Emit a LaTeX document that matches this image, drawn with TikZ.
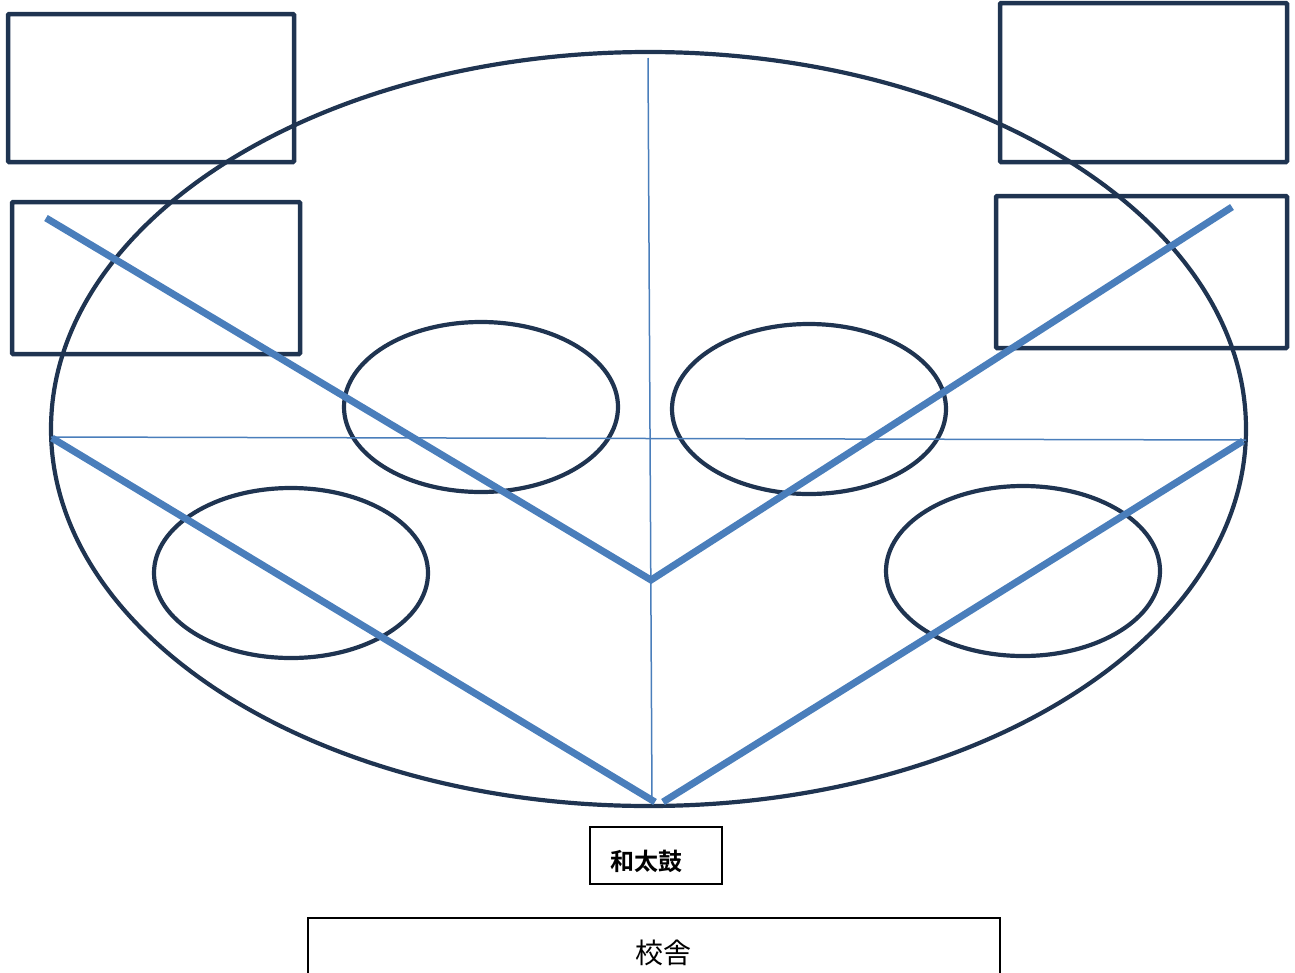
\documentclass[tikz,border=0pt]{standalone}
\usepackage{fontspec}
\newfontfamily\cjk{Noto Sans CJK JP}[BoldFont={Noto Sans CJK JP Bold}]
\usetikzlibrary{shapes.geometric}
\definecolor{dark}{HTML}{1F3451}
\definecolor{lblue}{HTML}{4A7EBB}
\tikzset{
  field/.style={draw=dark, line width=4.2pt, ellipse, inner sep=0pt, minimum width=1195pt, minimum height=754pt},
  group/.style={draw=dark, line width=4.2pt, ellipse, inner sep=0pt, minimum width=274pt, minimum height=170pt},
  board/.style={draw=dark, line width=4.5pt, rectangle, inner sep=0pt, rounded corners=1pt},
  axis/.style={draw=lblue, line width=1.5pt},
  route/.style={draw=lblue, line width=7pt},
  label/.style={draw=black, line width=1.2pt, rectangle, inner sep=0pt},
}
\begin{document}
\begin{tikzpicture}[x=1pt,y=-1pt]
\useasboundingbox (0,0) rectangle (1295,972);
\clip (0,0) rectangle (1295,972);
% field
\node[field] (F) at (648.5,429) {};
% boards
\node[board, minimum width=286pt, minimum height=148pt] (TL) at (151,88) {};
\node[board, minimum width=288pt, minimum height=152pt] (ML) at (156,278) {};
\node[board, minimum width=287pt, minimum height=159pt] (TR) at (1143.5,82.5) {};
\node[board, minimum width=291pt, minimum height=152pt] (MR) at (1141.5,272) {};
% groups
\node[group] (G1) at (481,407) {};
\node[group] (G2) at (809,409) {};
\node[group] (G3) at (291,573) {};
\node[group] (G4) at (1023,571) {};
% axes
\coordinate (vt) at (648,58);
\coordinate (vb) at (652,803);
\coordinate (hl) at (51,437);
\coordinate (hr) at (1246,440);
\draw[axis] (vt) -- (vb);
\draw[axis] (hl) -- (hr);
% routes
\coordinate (a1) at (46,218);
\coordinate (a2) at (651,580);
\coordinate (a3) at (1232,207);
\coordinate (b1) at (52,438);
\coordinate (b2) at (655,802);
\coordinate (c1) at (663,802);
\coordinate (c2) at (1243,441);
\draw[route] (a1) -- (a2) -- (a3);
\draw[route] (b1) -- (b2);
\draw[route] (c1) -- (c2);
% labels
\node[label, minimum width=132pt, minimum height=57pt] (W) at (656,855.5) {};
\node[font=\cjk\bfseries\fontsize{24}{28}\selectfont, inner sep=0pt] (Wt) at (646.5,861) {和太鼓};
\node[label, minimum width=692pt, minimum height=70pt] (S) at (654,953) {};
\node[font=\cjk\fontsize{28}{32}\selectfont, inner sep=0pt] (St) at (663,953) {校舎};
\end{tikzpicture}
\end{document}
